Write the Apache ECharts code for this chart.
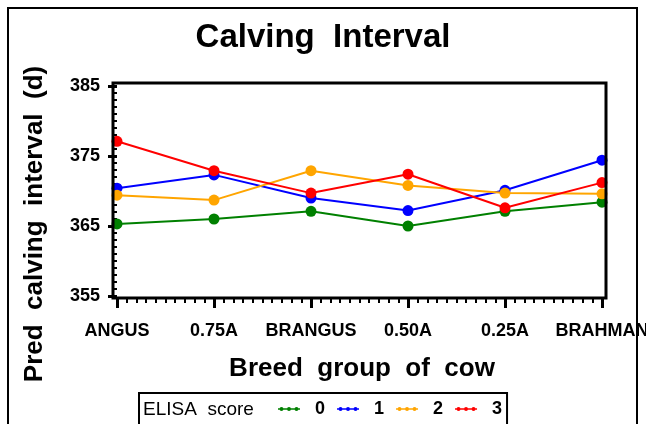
<!DOCTYPE html>
<html>
<head>
<meta charset="utf-8">
<style>
html,body{margin:0;padding:0;background:#fff;}
#chart{width:646px;height:424px;}
</style>
<script src="https://cdn.jsdelivr.net/npm/echarts@6/dist/echarts.min.js"></script>
</head>
<body>
<div id="chart"></div>
<script>
var categories = ['ANGUS', '0.75A', 'BRANGUS', '0.50A', '0.25A', 'BRAHMAN'];
var seriesNames = ['0', '1', '2', '3'];
var score0 = [365.3, 366.0, 367.1, 365.0, 367.1, 368.4];
var score1 = [370.4, 372.3, 369.0, 367.2, 370.1, 374.4];
var score2 = [369.4, 368.7, 372.9, 370.8, 369.7, 369.6];
var score3 = [377.1, 372.9, 369.7, 372.4, 367.6, 371.2];
var yTicks = [355, 365, 375, 385];

var colors = ['#008000', '#0000ff', '#ffa500', '#ff0000'];
var allData = [score0, score1, score2, score3];
var FONT = "'Liberation Sans', Arial, sans-serif";

// legend icon: short line with three small dots (all sub-paths clockwise)
var LEGEND_ICON = 'path://M0,2.3 L22,2.3 L22,3.7 L0,3.7 Z ' +
  'M1.5,3 A2,2 0 1,1 5.5,3 A2,2 0 1,1 1.5,3 Z ' +
  'M9,3 A2,2 0 1,1 13,3 A2,2 0 1,1 9,3 Z ' +
  'M16.5,3 A2,2 0 1,1 20.5,3 A2,2 0 1,1 16.5,3 Z';

var chart = echarts.init(document.getElementById('chart'));

var series = allData.map(function (vals, k) {
  return {
    name: seriesNames[k],
    type: 'line',
    xAxisIndex: 0,
    yAxisIndex: 0,
    data: vals.map(function (v, i) { return [i, v]; }),
    symbol: 'circle',
    symbolSize: 11,
    color: colors[k],
    lineStyle: { width: 2, color: colors[k] },
    itemStyle: { color: colors[k] },
    emphasis: { disabled: true },
    z: 3
  };
});

var option = {
  animation: false,
  backgroundColor: '#fff',
  title: {
    text: 'Calving  Interval',
    left: 'center',
    top: 16,
    textStyle: { fontFamily: FONT, fontSize: 33, fontWeight: 'bold', color: '#000' }
  },
  grid: [
    { left: 117, right: 44, top: 86, bottom: 128, show: false, containLabel: false, outerBoundsMode: 'none' },
    { left: 113, right: 40, top: 83, bottom: 126, show: true, borderColor: '#000', borderWidth: 3, backgroundColor: 'transparent', z: 4, containLabel: false, outerBoundsMode: 'none' }
  ],
  xAxis: [
    {
      gridIndex: 0,
      type: 'value',
      min: 0,
      max: categories.length - 1,
      interval: 1,
      offset: 2,
      axisLine: { show: false },
      axisTick: { show: true, inside: false, length: 10, lineStyle: { color: '#000', width: 3 } },
      minorTick: { show: true, splitNumber: 10, length: 5, lineStyle: { color: '#000', width: 2 } },
      splitLine: { show: false },
      minorSplitLine: { show: false },
      axisLabel: {
        margin: 24,
        fontFamily: FONT, fontSize: 18, fontWeight: 'bold', color: '#000',
        formatter: function (v) { return categories[Math.round(v)]; }
      }
    },
    { gridIndex: 1, type: 'value', min: 0, max: 1, show: false }
  ],
  yAxis: [
    {
      gridIndex: 0,
      type: 'value',
      min: yTicks[0],
      max: yTicks[yTicks.length - 1],
      interval: 10,
      offset: 4,
      axisLine: { show: false },
      axisTick: { show: true, inside: false, length: 9, lineStyle: { color: '#000', width: 3 } },
      minorTick: { show: true, splitNumber: 10, length: 5, lineStyle: { color: '#000', width: 2 } },
      splitLine: { show: false },
      minorSplitLine: { show: false },
      axisLabel: { margin: 13, fontFamily: FONT, fontSize: 18, fontWeight: 'bold', color: '#000' }
    },
    { gridIndex: 1, type: 'value', min: 0, max: 1, show: false }
  ],
  legend: {
    data: seriesNames.map(function (n, k) {
      return {
        name: n,
        icon: LEGEND_ICON,
        itemStyle: { color: colors[k], borderWidth: 0, opacity: 1 }
      };
    }),
    left: 139,
    top: 393,
    orient: 'horizontal',
    padding: [7, 5, 20, 139],
    itemGap: 12,
    itemWidth: 22,
    itemHeight: 6,
    borderColor: '#000',
    borderWidth: 2,
    backgroundColor: '#fff',
    selectedMode: false,
    textStyle: { fontFamily: FONT, fontSize: 18, fontWeight: 'bold', color: '#000', padding: [0, 0, 0, 10] }
  },
  graphic: [
    {
      type: 'rect',
      shape: { x: 8, y: 8, width: 629, height: 440 },
      style: { fill: 'none', stroke: '#000', lineWidth: 2 },
      z: -10
    },
    {
      type: 'text',
      x: 35, y: 224,
      rotation: Math.PI / 2,
      style: {
        text: 'Pred  calving  interval  (d)',
        fontFamily: FONT, fontSize: 26, fontWeight: 'bold', fill: '#000',
        align: 'center', verticalAlign: 'middle'
      }
    },
    {
      type: 'text',
      x: 362, y: 369,
      style: {
        text: 'Breed  group  of  cow',
        fontFamily: FONT, fontSize: 26, fontWeight: 'bold', fill: '#000',
        align: 'center', verticalAlign: 'middle'
      }
    },
    {
      type: 'text',
      x: 143, y: 410,
      z: 100,
      style: {
        text: 'ELISA  score',
        fontFamily: FONT, fontSize: 19, fill: '#000',
        align: 'left', verticalAlign: 'middle'
      }
    }
  ],
  series: series
};

chart.setOption(option);
</script>
</body>
</html>
